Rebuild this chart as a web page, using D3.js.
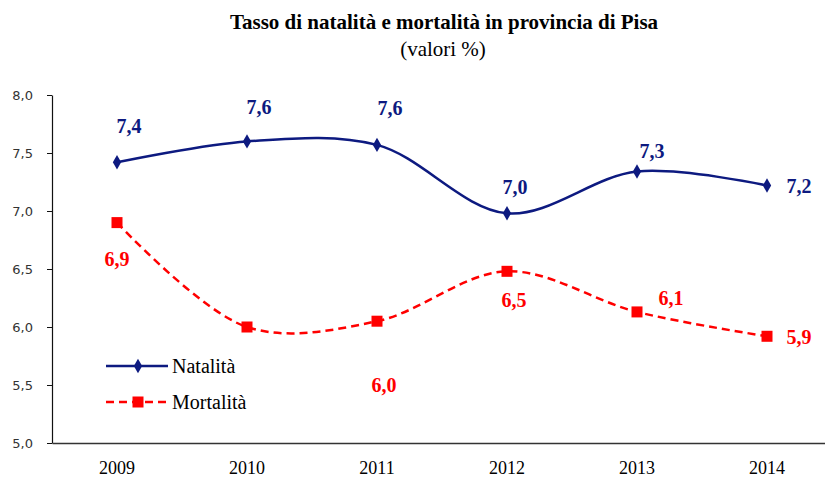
<!DOCTYPE html>
<html>
<head>
<meta charset="utf-8">
<script src="https://cdn.jsdelivr.net/npm/d3@7"></script>
<style>
  body { margin: 0; background: #fff; }
  svg { display: block; }
</style>
</head>
<body>
<svg id="chart" width="825" height="478"></svg>
<script>
// data
const years = ["2009", "2010", "2011", "2012", "2013", "2014"];
const natalita = [7.42, 7.60, 7.57, 6.98, 7.34, 7.22];
const mortalita = [6.90, 6.00, 6.05, 6.48, 6.13, 5.92];
const natLabels = ["7,4", "7,6", "7,6", "7,0", "7,3", "7,2"];
const morLabels = ["6,9", "", "6,0", "6,5", "6,1", "5,9"];
const yTicks = [5.0, 5.5, 6.0, 6.5, 7.0, 7.5, 8.0];

const svg = d3.select("#chart");
const navy = "#0d1a80", red = "#ff0000";
const serif = "'Liberation Serif', 'Times New Roman', serif";

const x = d3.scaleBand().domain(years).range([52, 832]);
const y = d3.scaleLinear().domain([5, 8]).range([443, 95]);
const cx = d => x(d) + x.bandwidth() / 2;

// title
svg.append("text")
  .attr("x", 444).attr("y", 29)
  .attr("text-anchor", "middle")
  .style("font-family", serif)
  .style("font-weight", "bold").style("font-size", "21px")
  .text("Tasso di natalità e mortalità in provincia di Pisa");
svg.append("text")
  .attr("x", 443).attr("y", 56)
  .attr("text-anchor", "middle")
  .style("font-family", serif)
  .style("font-size", "21px")
  .text("(valori %)");

// axes
const yAxis = svg.append("g")
  .attr("transform", "translate(52,0)")
  .call(d3.axisLeft(y).tickValues(yTicks).tickSize(5).tickSizeOuter(0)
    .tickFormat(d => d3.format(".1f")(d).replace(".", ",")));
yAxis.select(".domain").attr("stroke", "#111").attr("stroke-width", 1.2);
yAxis.selectAll(".tick line").attr("stroke", "#111");
yAxis.selectAll(".tick text")
  .attr("x", -19)
  .style("font-family", "'DejaVu Sans', sans-serif")
  .style("font-size", "13px").attr("fill", "#333");

const xAxis = svg.append("g")
  .attr("transform", "translate(0,443)")
  .call(d3.axisBottom(x).tickSize(0).tickPadding(18));
xAxis.select(".domain").attr("stroke", "#333").attr("stroke-width", 1.5);
xAxis.selectAll(".tick text")
  .style("font-family", serif)
  .style("font-size", "18px").attr("fill", "#000");

// lines
const line = vals => d3.line()
  .x((d, i) => cx(years[i]))
  .y(d => y(d))
  .curve(d3.curveCatmullRom.alpha(0.5))(vals);

svg.append("path")
  .attr("d", line(natalita))
  .attr("fill", "none").attr("stroke", navy).attr("stroke-width", 2.5);

svg.append("path")
  .attr("d", line(mortalita))
  .attr("fill", "none").attr("stroke", red).attr("stroke-width", 2.5)
  .attr("stroke-dasharray", "8,5");

const diamond = d3.symbol().type(d3.symbolDiamond).size(60);
svg.selectAll(".nat")
  .data(natalita)
  .enter().append("path")
  .attr("transform", (d, i) => `translate(${cx(years[i])},${y(d)})`)
  .attr("d", diamond).attr("fill", navy);

svg.selectAll(".mor")
  .data(mortalita)
  .enter().append("rect")
  .attr("x", (d, i) => cx(years[i]) - 5.5)
  .attr("y", d => y(d) - 5.5)
  .attr("width", 11).attr("height", 11)
  .attr("fill", red);

// data labels (offsets from the marker)
const natOff = [[12, -36], [12, -34], [13, -37], [8, -26], [15, -21], [32, 1]];
const morOff = [[0, 36], [0, 0], [7, 64], [7, 29], [34, -14], [32, 1]];

function labels(vals, texts, offs, color) {
  svg.append("g").selectAll("text")
    .data(vals)
    .enter().append("text")
    .attr("x", (d, i) => cx(years[i]) + offs[i][0])
    .attr("y", (d, i) => y(d) + offs[i][1])
    .attr("dy", "0.35em")
    .attr("text-anchor", "middle")
    .style("font-family", serif)
    .style("font-weight", "bold").style("font-size", "20px")
    .attr("fill", color)
    .text((d, i) => texts[i]);
}
labels(natalita, natLabels, natOff, navy);
labels(mortalita, morLabels, morOff, red);

// legend
const legend = [
  { name: "Natalità", color: navy, dash: null, yy: 366 },
  { name: "Mortalità", color: red, dash: "8,5", yy: 402 }
];
legend.forEach(l => {
  svg.append("line")
    .attr("x1", 106).attr("x2", 168).attr("y1", l.yy).attr("y2", l.yy)
    .attr("stroke", l.color).attr("stroke-width", 2.5)
    .attr("stroke-dasharray", l.dash);
  if (l.dash) {
    svg.append("rect").attr("x", 138 - 5.5).attr("y", l.yy - 5.5)
      .attr("width", 11).attr("height", 11).attr("fill", l.color);
  } else {
    svg.append("path").attr("transform", `translate(138,${l.yy})`)
      .attr("d", diamond).attr("fill", l.color);
  }
  svg.append("text")
    .attr("x", 172).attr("y", l.yy).attr("dy", "0.35em")
    .style("font-family", serif)
    .style("font-size", "20px").attr("fill", "#000")
    .text(l.name);
});
</script>
</body>
</html>
